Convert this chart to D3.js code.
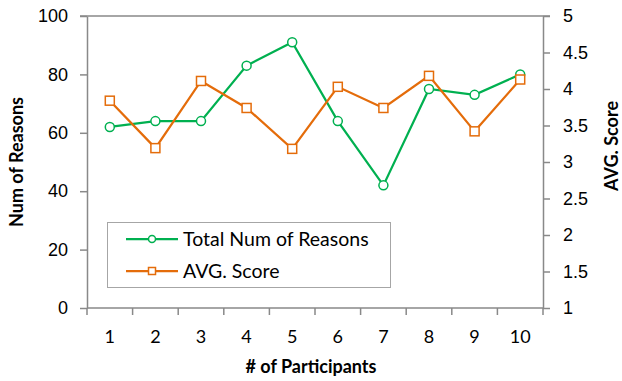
<!DOCTYPE html>
<html>
<head>
<meta charset="utf-8">
<script src="https://cdn.jsdelivr.net/npm/d3@7"></script>
<style>
  body { margin: 0; background: #fff; }
  svg { display: block; font-family: Lato, "Open Sans", sans-serif; }
</style>
</head>
<body>
<div id="chart"></div>
<script>
const participants = [1, 2, 3, 4, 5, 6, 7, 8, 9, 10]
const totalReasons = [62, 64, 64, 83, 91, 64, 42, 75, 73, 80]
const avgScore = [3.84, 3.19, 4.11, 3.74, 3.18, 4.03, 3.74, 4.18, 3.42, 4.13]
const leftTicks = [0, 20, 40, 60, 80, 100]
const rightTicks = [1, 1.5, 2, 2.5, 3, 3.5, 4, 4.5, 5]

const width = 622, height = 381
const margin = { top: 16, right: 79, bottom: 73, left: 87 }
const innerW = width - margin.left - margin.right
const innerH = height - margin.top - margin.bottom

const green = "#00b050", orange = "#e46c0a", axisColor = "#898989"

const svg = d3.select("#chart").append("svg")
  .attr("width", width).attr("height", height)

const g = svg.append("g").attr("transform", `translate(${margin.left},${margin.top})`)

const x = d3.scaleBand().domain(participants).range([0, innerW])
const y = d3.scaleLinear().domain([0, 100]).range([innerH, 0])
const y2 = d3.scaleLinear().domain([1, 5]).range([innerH, 0])

// top border line
g.append("line").attr("x1", -7).attr("x2", innerW + 7).attr("y1", 0).attr("y2", 0)
  .attr("stroke", axisColor).attr("stroke-width", 1.5)

const styleAxis = sel => {
  sel.select(".domain").attr("stroke", axisColor).attr("stroke-width", 1.5)
  sel.selectAll(".tick line").attr("stroke", axisColor).attr("stroke-width", 1.5)
  sel.selectAll(".tick text").attr("font-size", 18).attr("fill", "#000")
}

g.append("g")
  .call(d3.axisLeft(y).tickValues(leftTicks).tickSize(7).tickSizeOuter(0).tickPadding(12))
  .call(styleAxis)

g.append("g").attr("transform", `translate(${innerW},0)`)
  .call(d3.axisRight(y2).tickValues(rightTicks).tickSize(7).tickSizeOuter(0).tickPadding(13)
    .tickFormat(d3.format("")))
  .call(styleAxis)

// category axis: ticks between categories
const xAxis = g.append("g").attr("transform", `translate(0,${innerH})`)
xAxis.append("line").attr("x1", 0).attr("x2", innerW)
  .attr("stroke", axisColor).attr("stroke-width", 1.5)
const boundaries = participants.map(p => x(p)).concat([innerW])
xAxis.selectAll("line.tk").data(boundaries).join("line").attr("class", "tk")
  .attr("x1", d => d).attr("x2", d => d).attr("y1", 0).attr("y2", 7)
  .attr("stroke", axisColor).attr("stroke-width", 1.5)
xAxis.selectAll("text").data(participants).join("text")
  .attr("x", d => x(d) + x.bandwidth() / 2).attr("y", 35)
  .attr("text-anchor", "middle").attr("font-size", 18).text(d => d)

// axis titles
svg.append("text").attr("x", 311).attr("y", 373)
  .attr("text-anchor", "middle").attr("font-size", 18).attr("font-weight", 700)
  .text("# of Participants")
svg.append("text").attr("transform", "translate(23,162) rotate(-90)")
  .attr("text-anchor", "middle").attr("font-size", 18).attr("font-weight", 700)
  .text("Num of Reasons")
svg.append("text").attr("transform", "translate(618,146) rotate(-90)")
  .attr("text-anchor", "middle").attr("font-size", 18).attr("font-weight", 700)
  .text("AVG. Score")

const cx = d => x(d) + x.bandwidth() / 2

// series: total reasons
const greenPts = participants.map((p, i) => [cx(p), y(totalReasons[i])])
g.append("path").attr("d", d3.line()(greenPts))
  .attr("fill", "none").attr("stroke", green).attr("stroke-width", 2.25)
g.selectAll("circle.g").data(greenPts).join("circle").attr("class", "g")
  .attr("cx", d => d[0]).attr("cy", d => d[1]).attr("r", 4.5)
  .attr("fill", "#fff").attr("stroke", green).attr("stroke-width", 1.5)

// series: avg score
const orangePts = participants.map((p, i) => [cx(p), y2(avgScore[i])])
g.append("path").attr("d", d3.line()(orangePts))
  .attr("fill", "none").attr("stroke", orange).attr("stroke-width", 2.25)
g.selectAll("rect.o").data(orangePts).join("rect").attr("class", "o")
  .attr("x", d => d[0] - 4.5).attr("y", d => d[1] - 4.5).attr("width", 9).attr("height", 9)
  .attr("fill", "#fff").attr("stroke", orange).attr("stroke-width", 1.5)

// legend
const legend = svg.append("g")
legend.append("rect").attr("x", 107.5).attr("y", 222.5).attr("width", 283).attr("height", 65)
  .attr("fill", "#fff").attr("stroke", "#a6a6a6").attr("stroke-width", 1)
const items = [
  { label: "Total Num of Reasons", color: green, shape: "circle", y: 239 },
  { label: "AVG. Score", color: orange, shape: "square", y: 271 }
]
items.forEach(it => {
  legend.append("line").attr("x1", 126).attr("x2", 178).attr("y1", it.y).attr("y2", it.y)
    .attr("stroke", it.color).attr("stroke-width", 2.25)
  if (it.shape === "circle") {
    legend.append("circle").attr("cx", 152).attr("cy", it.y).attr("r", 3.5)
      .attr("fill", "#fff").attr("stroke", it.color).attr("stroke-width", 1.5)
  } else {
    legend.append("rect").attr("x", 148.5).attr("y", it.y - 3.5).attr("width", 7).attr("height", 7)
      .attr("fill", "#fff").attr("stroke", it.color).attr("stroke-width", 1.5)
  }
  legend.append("text").attr("x", 183).attr("y", it.y).attr("dy", "0.35em")
    .attr("font-size", 19.5).text(it.label)
})
</script>
</body>
</html>
